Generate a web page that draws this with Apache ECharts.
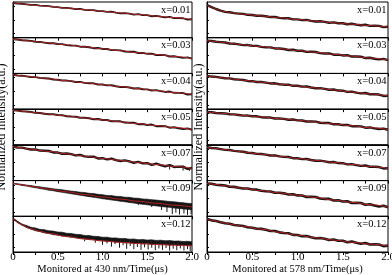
<!DOCTYPE html>
<html><head><meta charset="utf-8">
<script src="https://cdn.jsdelivr.net/npm/echarts@6/dist/echarts.min.js"></script>
<style>html,body{margin:0;padding:0;background:#fff}#c{width:392px;height:275px}</style>
</head><body><div id="c"></div>
<script>
// time axis of the measured decays (µs)
const times = [0,0.05,0.1,0.15,0.2,0.25,0.3,0.35,0.4,0.45,0.5,0.55,0.6,0.65,0.7,0.75,0.8,0.85,0.9,0.95,1,1.05,1.1,1.15,1.2,1.25,1.3,1.35,1.4,1.45,1.5,1.55,1.6,1.65,1.7,1.75,1.8,1.85,1.9,1.95,2];
// time points of the fitted curves
const fitTimes = [0,0.05,0.1,0.2,0.3,0.4,0.6,0.8,1.0,1.2,1.4,1.6,1.8,2.0];
const sampleLabels = ['x=0.01','x=0.03','x=0.04','x=0.05','x=0.07','x=0.09','x=0.12'];
const xTickLabels = ['0','0.5','1.0','1.5','2.0'];
const yTicks = [12, 50, 88];
const xTitle430 = 'Monitored at 430 nm/Time(μs)';
const xTitle578 = 'Monitored at 578 nm/Time(μs)';
const yTitle = 'Normalized Intensity(a.u.)';

// 430 nm, measured (relative log intensity, % of panel height)
const d430_001 = [97.2,95.6,95.1,93.5,91.9,91.9,89.8,89.2,88.5,86.1,85.6,83.6,83.7,82.4,80.2,80.7,78.2,77.3,77.3,74.3,74.4,72.3,72.8,70.3,68.4,69.1,67.3,64.8,65.8,63.2,63.1,60.1,61.4,58.9,56.8,58.1,54.8,55.0,54.5,50.8,51.7];
const d430_003 = [95.8,95.0,92.9,92.1,91.1,88.7,88.2,86.4,84.5,84.5,82.4,82.0,79.3,78.2,77.8,74.9,74.8,73.3,70.7,71.3,68.6,68.3,65.2,65.3,64.6,61.5,60.7,60.8,57.2,57.4,54.9,55.5,51.6,51.7,51.2,47.5,48.2,45.6,43.5,44.8,41.3];
const d430_004 = [96.2,94.3,93.7,91.8,90.0,89.7,87.5,86.6,85.7,83.0,82.4,80.1,80.0,78.4,76.1,76.3,73.6,72.4,72.3,69.0,68.9,66.5,66.9,64.1,62.0,62.4,60.5,57.7,58.5,55.6,55.4,52.1,53.2,50.4,48.2,49.2,45.7,45.6,45.0,41.0,41.7];
const d430_005 = [96.8,96.1,93.8,93.1,92.2,89.6,89.3,87.4,85.4,85.6,83.4,83.2,80.2,79.1,78.9,75.7,75.9,74.3,71.5,72.5,69.5,69.4,66.0,66.4,65.8,62.3,61.7,62.0,58.0,58.5,55.8,56.8,52.4,52.7,52.4,48.2,49.4,46.5,44.3,46.1,42.2];
const d430_007 = [95.4,92.5,92.2,89.5,87.1,87.3,84.0,83.4,82.8,78.8,78.4,75.2,75.9,73.9,70.4,71.7,67.8,66.5,67.0,62.0,62.7,59.5,61.2,57.4,54.7,56.4,53.9,49.8,52.3,48.2,48.8,44.1,47.2,43.2,40.2,43.2,38.1,39.0,38.9,32.9,35.3];
// noisy decays: upper / lower edge of the measured band
const hi430_009 = [93,91,89.5,87.5,86,84,82.5,80.5,79,77,75.5,74,72.5,70.5,69.5,67.5,66.5,64.5,63.5,61.5,60.5,58.5,58,56,55.5,53.5,53,51,50.5,48.5,48,46.5,45.5,44,43,41.5,40.5,39,38,36.5,35.5];
const lo430_009 = [91,89,86.5,84.5,82,80,77.5,75.5,73,71.5,69,67,65,63,61,59,57,55,53,51.5,49,47.5,45.5,44,42,40.5,38.5,37,35,33.5,32,30.5,29,27.5,26,25,23,22,20.5,19.5,18];
const hi430_012 = [95.5,86.5,78.5,74.5,69.5,67.5,63.5,62.5,59.5,58.5,56,55.5,52.5,52,49.5,49,46.5,46,44,43.5,41.5,41.5,39.5,39.5,37.5,38,36,36.5,34.5,35,33.5,34,32.5,33,31.5,32,30.5,31,29.5,30,28.5];
const lo430_012 = [93,82,75,68.5,64,59.5,57,53.5,51.5,48.5,47,44.5,43,41,39.5,37.5,36.5,34.5,34,32,31.5,29.5,29.5,27.5,27.5,25.5,26,24,24.5,22.5,23.5,21,22,20,21,19,20,18,19,17.5,18];
// 430 nm, fitted
const fit430_001 = [97,96,94.5,92,90,87.5,83,78.5,74,69.5,65,60.5,56,51];
const fit430_003 = [96,94.5,93.5,90.5,88,85,80,74.5,69,63.5,58,53,47.5,42];
const fit430_004 = [96,94.5,93,90.5,87.5,85,79.5,74,68.5,63,57.5,52,46.5,41];
const fit430_005 = [97,95.5,94.5,91.5,89,86,81,75.5,70,64.5,59,54,48.5,43];
const fit430_007 = [95,93,91.5,88,84.5,81.5,75,68.5,62,56.5,50.5,45,39.5,34];
const fit430_009 = [92,90,88,84,80,76,68.5,61,54,48,42,36.5,31,26];
const fit430_012 = [94,84,76,65,58,52,43.5,36.5,31,27,23.5,21,19,17];
// 430 nm, downward noise spikes [t, from, to]
const sp430_007 = [[1.75,41,31],[1.9,37,28],[1.97,35,27]];
const sp430_009 = [[1.4,40,32],[1.55,36,26],[1.66,33,18],[1.72,31,12],[1.78,30,6],[1.82,29,10],[1.86,28,5],[1.91,27,8],[1.95,26,4],[1.99,25,6]];
const sp430_012 = [[0.8,35.5,30],[0.92,33,26],[1.0,31,20],[1.05,30,24],[1.1,29.5,15],[1.14,29,22],[1.19,28,12],[1.23,27,19],[1.27,26.5,9],[1.31,26,17],[1.35,25.5,8],[1.39,25,14],[1.43,24,6],[1.47,23.5,13],[1.51,23,7],[1.55,22.5,12],[1.59,22,5],[1.63,21.5,10],[1.67,21,6],[1.71,20.5,11],[1.75,20,4],[1.79,20,9],[1.83,19.5,5],[1.87,19,10],[1.91,19,4],[1.95,18.5,8],[1.98,18,3]];

// 578 nm, measured
const d578_001 = [91.2,85.7,80.4,75.9,72.5,71.4,68.7,67.6,66.7,64.1,63.6,61.4,61.5,60.0,57.8,58.1,55.6,54.5,54.5,51.3,51.4,49.3,49.9,47.3,45.5,46.2,44.4,41.9,43.0,40.5,40.6,37.7,39.2,36.8,34.9,36.3,33.2,33.5,33.2,29.6,30.7];
const d578_003 = [91.8,90.8,88.6,87.6,86.5,83.9,83.3,81.3,79.3,79.4,77.4,77.1,74.5,73.3,72.9,70.0,69.9,68.3,65.7,66.3,63.6,63.4,60.4,60.6,60.0,56.8,56.0,56.1,52.5,52.7,50.4,51.0,47.3,47.3,46.8,43.1,43.8,41.2,39.3,40.6,37.3];
const d578_004 = [93.2,91.2,90.4,88.4,86.5,86.1,83.7,82.7,81.7,79.0,78.3,76.1,76.0,74.4,72.0,72.3,69.6,68.5,68.5,65.3,65.4,63.0,63.3,60.6,58.5,58.9,56.9,54.2,55.0,52.0,51.6,48.2,49.2,46.4,44.1,45.2,41.7,41.6,40.9,37.0,37.7];
const d578_005 = [91.8,91.3,89.1,88.6,88.0,85.6,85.3,83.5,81.8,82.0,80.1,79.9,77.5,76.6,76.4,73.7,73.9,72.6,70.2,71.0,68.6,68.3,65.4,65.5,65.0,61.8,61.0,61.1,57.5,57.7,55.4,56.0,52.3,52.3,51.8,48.1,48.8,46.2,44.3,45.6,42.3];
const d578_007 = [93.2,91.2,90.4,88.1,86.0,85.6,83.2,81.9,80.7,77.9,77.1,74.7,74.5,72.8,70.3,70.4,67.6,66.3,66.0,62.6,62.4,60.0,60.3,57.6,55.5,55.9,53.9,51.2,52.0,49.0,48.6,45.2,46.2,43.4,41.1,42.2,38.7,38.6,37.9,34.0,34.7];
const d578_009 = [91.7,90.9,88.5,87.3,86.2,82.9,82.4,79.9,77.6,77.7,75.1,74.6,71.3,70.0,69.6,65.9,66.0,64.2,60.9,61.8,58.5,58.2,54.3,54.5,53.8,49.7,48.7,48.8,44.2,44.6,41.4,42.3,37.4,37.7,37.1,32.4,33.5,30.2,27.6,29.4,25.1];
const d578_012 = [92.3,88.6,87.0,83.6,80.3,79.3,75.6,74.3,72.9,69.2,68.1,65.0,64.7,62.3,58.8,58.8,55.0,53.1,52.5,47.9,47.5,44.4,44.9,41.3,38.7,39.4,37.0,33.5,34.8,31.3,31.3,27.3,29.1,25.8,23.3,25.1,21.0,21.4,21.1,16.4,17.9];
// 578 nm, fitted
const fit578_001 = [91,86,80,73,69,66,61,56,51,46.5,42,38,34,30];
const fit578_003 = [92,90.5,89,86,83,80,75,69.5,64,59,53.5,48.5,43,38];
const fit578_004 = [93,91.5,90,87,84,81,75.5,70,65,59.5,54,48,42.5,37];
const fit578_005 = [92,91,89.5,87.5,85,82.5,78,73.5,69,64,58.5,53.5,48,43];
const fit578_007 = [93,91.5,90,86.5,83.5,80,74,68,62,56.5,51,45,39.5,34];
const fit578_009 = [92,90.5,89,85.5,82,78.5,72,65.5,59,52.5,45.5,39,32.5,26];
const fit578_012 = [92,89,86.5,81,76,72,64,55.5,47,40,33.5,27.5,22,17];

const FONT = 'Liberation Serif';
const panelTop = 2, panelH = 250 / 7;
const columns = [
  { left: 13, width: 179, yNameGap: 5, xName: xTitle430,
    data: [d430_001,d430_003,d430_004,d430_005,d430_007,null,null],
    bands: [null,null,null,null,null,[lo430_009,hi430_009],[lo430_012,hi430_012]],
    widths: [1.8,1.9,1.9,2.0,2.4,1,1],
    fits: [fit430_001,fit430_003,fit430_004,fit430_005,fit430_007,fit430_009,fit430_012],
    spikes: [null,null,null,null,sp430_007,sp430_009,sp430_012] },
  { left: 207, width: 181, yNameGap: 2, xName: xTitle578,
    data: [d578_001,d578_003,d578_004,d578_005,d578_007,d578_009,d578_012],
    bands: [null,null,null,null,null,null,null],
    widths: [2.4,2.4,2.4,2.4,2.4,2.6,2.6],
    fits: [fit578_001,fit578_003,fit578_004,fit578_005,fit578_007,fit578_009,fit578_012],
    spikes: [null,null,null,null,null,null,null] }
];

const grid = [], xAxis = [], yAxis = [], series = [], graphic = [];
columns.forEach((col, c) => {
  for (let p = 0; p < 7; p++) {
    const gi = c * 7 + p;
    const top = panelTop + p * panelH;
    grid.push({ left: col.left, top: top, width: col.width, height: panelH,
      show: true, borderColor: '#000', borderWidth: 1, backgroundColor: 'transparent',
      containLabel: false, outerBoundsMode: 'none' });
    const last = p === 6;
    xAxis.push({ gridIndex: gi, type: 'value', min: 0, max: 2, interval: 0.25,
      axisLine: { show: true, onZero: false, lineStyle: { color: '#000', width: 1 } },
      axisTick: { show: true, inside: false, length: 3, lineStyle: { color: '#000', width: 1 } },
      axisLabel: { show: last, margin: 0, color: '#000', fontFamily: FONT, fontSize: 11,
        formatter: v => { const k = Math.round(v / 0.5); return Math.abs(k * 0.5 - v) < 1e-6 ? xTickLabels[k] : ''; } },
      splitLine: { show: false },
      name: last ? col.xName : '', nameLocation: 'middle', nameGap: 8,
      nameTextStyle: { color: '#000', fontFamily: FONT, fontSize: 10.5 } });
    yAxis.push({ gridIndex: gi, type: 'value', min: 0, max: 100,
      axisLine: { show: true, lineStyle: { color: '#000', width: 1 } },
      axisTick: { show: true, inside: true, length: 2, customValues: yTicks, lineStyle: { color: '#000' } },
      axisLabel: { show: false }, splitLine: { show: false },
      name: p === 3 ? yTitle : '', nameLocation: 'middle', nameRotate: 90, nameGap: col.yNameGap,
      nameTextStyle: { color: '#000', fontFamily: FONT, fontSize: 12, verticalAlign: 'bottom' } });
    graphic.push({ type: 'text', x: col.left + col.width - 1.5, y: top + 2.5, silent: true, z: 10,
      style: { text: sampleLabels[p], align: 'right', verticalAlign: 'top', fill: '#000',
        fontFamily: FONT, fontSize: 10.5 } });
    if (col.data[p]) {
      series.push({ type: 'line', xAxisIndex: gi, yAxisIndex: gi, symbol: 'none', silent: true,
        animation: false, clip: true, z: 2,
        lineStyle: { color: '#141414', width: col.widths[p], join: 'round' },
        data: col.data[p].map((v, i) => [times[i], v]) });
    }
    if (col.bands[p]) {
      const lo = col.bands[p][0], hi = col.bands[p][1];
      series.push({ type: 'custom', xAxisIndex: gi, yAxisIndex: gi, silent: true, animation: false,
        clip: true, z: 2, encode: { x: 0, y: [1, 2] },
        renderItem: (params, api) => {
          const i = params.dataIndexInside;
          if (i >= params.dataInsideLength - 1) return null;
          const a1 = api.coord([api.value(0, i), api.value(2, i)]);
          const b1 = api.coord([api.value(0, i + 1), api.value(2, i + 1)]);
          const b0 = api.coord([api.value(0, i + 1), api.value(1, i + 1)]);
          const a0 = api.coord([api.value(0, i), api.value(1, i)]);
          return { type: 'polygon', shape: { points: [a1, b1, b0, a0] },
            style: { fill: '#141414', stroke: '#141414', lineWidth: 0.6 } };
        },
        data: times.map((t, i) => [t, lo[i], hi[i]]) });
    }
    if (col.spikes[p]) {
      series.push({ type: 'custom', xAxisIndex: gi, yAxisIndex: gi, silent: true, animation: false,
        clip: true, z: 2, encode: { x: 0, y: [1, 2] },
        renderItem: (params, api) => {
          const a = api.coord([api.value(0), api.value(1)]);
          const b = api.coord([api.value(0), api.value(2)]);
          return { type: 'line', shape: { x1: a[0], y1: a[1], x2: b[0], y2: b[1] },
            style: { stroke: '#141414', lineWidth: 1 } };
        },
        data: col.spikes[p] });
    }
    series.push({ type: 'line', xAxisIndex: gi, yAxisIndex: gi, symbol: 'none', silent: true,
      animation: false, clip: true, z: 3, smooth: 0.4, smoothMonotone: 'x',
      lineStyle: { color: '#c42222', width: 0.9 },
      data: col.fits[p].map((v, i) => [fitTimes[i], v]) });
  }
});

const chart = echarts.init(document.getElementById('c'), null, { renderer: 'canvas' });
chart.setOption({ animation: false, backgroundColor: '#fff', grid, xAxis, yAxis, series, graphic });
</script></body></html>
